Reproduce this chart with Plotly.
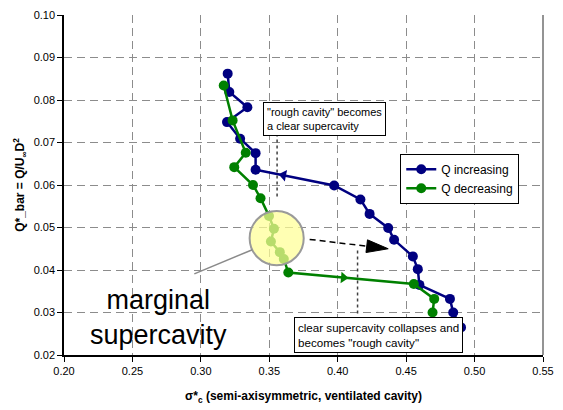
import math
import plotly.graph_objects as go

# Q increasing: cavitation number vs. ventilation coefficient, in test order
sigma_inc = [0.4901, 0.4844, 0.4820, 0.4597, 0.4585, 0.4549, 0.4412, 0.4369, 0.4233,
             0.4166, 0.3974, 0.3400, 0.3400, 0.3287, 0.3191, 0.3340, 0.3208, 0.3196]
q_inc = [0.0265, 0.0300, 0.0332, 0.0365, 0.0402, 0.0432, 0.0471, 0.0499, 0.0532,
         0.0566, 0.0599, 0.0636, 0.0675, 0.0709, 0.0748, 0.0783, 0.0819, 0.0862]

# Q decreasing, in test order
sigma_dec = [0.3167, 0.3232, 0.3328, 0.3244, 0.3381, 0.3436, 0.3498, 0.3534, 0.3512,
             0.3577, 0.3606, 0.3639, 0.4556, 0.4705, 0.4693]
q_dec = [0.0834, 0.0752, 0.0676, 0.0642, 0.0600, 0.0569, 0.0527, 0.0497, 0.0467,
         0.0442, 0.0426, 0.0394, 0.0367, 0.0332, 0.0300]

x_ticks = [0.20, 0.25, 0.30, 0.35, 0.40, 0.45, 0.50, 0.55]
y_ticks = [0.02, 0.03, 0.04, 0.05, 0.06, 0.07, 0.08, 0.09, 0.10]

BLUE = "#000080"
GREEN = "#008000"
FONT = "Arial, Liberation Sans, sans-serif"

W, H = 563, 410
M = dict(l=64, r=12, t=9, b=55)
XR = [0.20, 0.55]
YR = [0.02, 0.10]
kx = (W - M["l"] - M["r"]) / (XR[1] - XR[0])   # px per unit of sigma
ky = (H - M["t"] - M["b"]) / (YR[1] - YR[0])   # px per unit of Q


def along(xs, ys, i, f):
    """Point a fraction f of the way from point i to point i+1."""
    return xs[i] + f * (xs[i + 1] - xs[i]), ys[i] + f * (ys[i + 1] - ys[i])


fig = go.Figure()

fig.add_trace(go.Scatter(
    x=sigma_inc, y=q_inc, mode="lines+markers", name="Q increasing",
    line=dict(color=BLUE, width=2.5), marker=dict(color=BLUE, size=10)))
fig.add_trace(go.Scatter(
    x=sigma_dec, y=q_dec, mode="lines+markers", name="Q decreasing",
    line=dict(color=GREEN, width=2.5), marker=dict(color=GREEN, size=10)))

# direction arrows on the lines
bx, by = along(sigma_inc, q_inc, 10, 0.645)
fig.add_trace(go.Scatter(
    x=[bx], y=[by], mode="markers", showlegend=False, hoverinfo="skip",
    marker=dict(symbol="triangle-left", size=10, color=BLUE, angle=11)))
gx, gy = along(sigma_dec, q_dec, 11, 0.44)
fig.add_trace(go.Scatter(
    x=[gx], y=[gy], mode="markers", showlegend=False, hoverinfo="skip",
    marker=dict(symbol="triangle-right", size=10, color=GREEN, angle=5)))

# highlight circle around the marginal region
cx, cy, r_px = 0.3554, 0.0475, 27.5
fig.add_shape(type="circle", xref="x", yref="y", layer="above",
              x0=cx - r_px / kx, x1=cx + r_px / kx,
              y0=cy - r_px / ky, y1=cy + r_px / ky,
              fillcolor="rgba(255,255,150,0.72)", line=dict(color="#9a9a9a", width=2))

# pointer from circle to the big label
fig.add_shape(type="line", xref="x", yref="y", layer="above",
              x0=0.3376, y0=0.04478, x1=0.2952, y1=0.03908,
              line=dict(color="#8a8a8a", width=1.5))

# dashed arrow from circle towards the blue branch
tip_x, tip_y = 0.4369, 0.0450
ang = math.radians(6.8)
ux, uy = math.cos(ang), math.sin(ang)   # screen direction (y down)
head_len, head_half = 22, 6.5
base_px = (-head_len * ux, -head_len * uy)
def to_data(dx, dy):
    return tip_x + dx / kx, tip_y - dy / ky
bcx, bcy = to_data(*base_px)
p1 = to_data(base_px[0] - head_half * uy, base_px[1] + head_half * ux)
p2 = to_data(base_px[0] + head_half * uy, base_px[1] - head_half * ux)
fig.add_shape(type="line", xref="x", yref="y", layer="above",
              x0=0.3795, y0=0.0472, x1=bcx, y1=bcy,
              line=dict(color="black", width=1.5, dash="6px,4px"))
fig.add_shape(type="path", xref="x", yref="y", layer="above",
              path=f"M {tip_x},{tip_y} L {p1[0]},{p1[1]} L {p2[0]},{p2[1]} Z",
              fillcolor="black", line=dict(color="black", width=1))

# dotted leaders from the note boxes
fig.add_shape(type="line", xref="x", yref="y", x0=0.3557, x1=0.3557, y0=0.0721, y1=0.0567,
              line=dict(color="#404040", width=1.5, dash="dot"))
fig.add_shape(type="line", xref="x", yref="y", x0=0.4145, x1=0.4145, y0=0.0446, y1=0.0292,
              line=dict(color="#404040", width=1.5, dash="dot"))

# right border of the plot area
fig.add_shape(type="line", xref="paper", yref="paper", x0=1, x1=1, y0=0, y1=1,
              line=dict(color="#707070", width=1.5))

fig.add_annotation(x=0.3907, y=0.0756, xref="x", yref="y", showarrow=False,
                   text='"rough cavity" becomes<br>a clear supercavity', align="left",
                   font=dict(family=FONT, size=11, color="black"),
                   bgcolor="white", bordercolor="black", borderwidth=1, borderpad=3)
fig.add_annotation(x=0.4300, y=0.0248, xref="x", yref="y", showarrow=False,
                   text='clear supercavity collapses and<br>becomes "rough cavity"', align="left",
                   font=dict(family=FONT, size=11.6, color="black"),
                   bgcolor="white", bordercolor="black", borderwidth=1, borderpad=3)
fig.add_annotation(x=0.2693, y=0.0289, xref="x", yref="y", showarrow=False,
                   text="marginal<br>supercavity", align="center",
                   font=dict(family=FONT, size=27, color="black"))

axis_common = dict(
    showgrid=True, gridcolor="#8c8c8c", gridwidth=1, griddash="8px,5px",
    showline=True, linecolor="black", linewidth=1.5,
    ticks="outside", ticklen=5, tickcolor="black", tickwidth=1,
    tickformat=".2f", tickfont=dict(family=FONT, size=11, color="black"),
    zeroline=False,
)

fig.update_xaxes(range=XR, tickvals=x_ticks, **axis_common,
                 title=dict(text="<b>σ*<sub>c</sub> (semi-axisymmetric, ventilated cavity)</b>",
                            font=dict(family=FONT, size=12, color="black"), standoff=16))
fig.update_yaxes(range=YR, tickvals=y_ticks, **axis_common,
                 title=dict(text="<b>Q*_bar = Q/U<sub>∞</sub>D<sup>2</sup></b>",
                            font=dict(family=FONT, size=12, color="black"), standoff=6))

fig.update_layout(
    width=W, height=H, margin=M,
    paper_bgcolor="white", plot_bgcolor="white",
    font=dict(family=FONT, color="black"),
    showlegend=True,
    legend=dict(x=0.702, y=0.592, xanchor="left", yanchor="top",
                bgcolor="white", bordercolor="black", borderwidth=1,
                font=dict(family=FONT, size=12, color="black"),
                tracegroupgap=0, itemwidth=30),
)

fig.write_html("out.html")
